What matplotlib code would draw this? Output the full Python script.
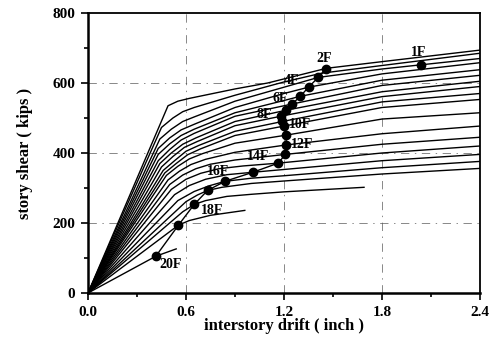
import matplotlib
matplotlib.use("Agg")
import matplotlib.pyplot as plt

# ---- data (drift in inch, story shear in kips), curves listed top to bottom ----
curve_drift = [
    [0, 0.49, 0.55, 0.62, 0.90, 1.10, 1.46, 1.80, 2.40],
    [0, 0.45, 0.52, 0.58, 0.65, 0.90, 1.20, 1.43, 1.80, 2.40],
    [0, 0.44, 0.51, 0.58, 0.65, 0.90, 1.20, 1.41, 1.80, 2.40],
    [0, 0.43, 0.50, 0.57, 0.65, 0.90, 1.20, 1.35, 1.80, 2.40],
    [0, 0.43, 0.50, 0.57, 0.65, 0.90, 1.20, 1.30, 1.80, 2.40],
    [0, 0.43, 0.50, 0.57, 0.65, 0.90, 1.25, 1.80, 2.40],
    [0, 0.44, 0.51, 0.58, 0.66, 0.90, 1.21, 1.80, 2.40],
    [0, 0.45, 0.52, 0.59, 0.67, 0.90, 1.18, 1.80, 2.40],
    [0, 0.46, 0.53, 0.60, 0.68, 0.90, 1.19, 1.80, 2.40],
    [0, 0.47, 0.54, 0.61, 0.69, 0.90, 1.20, 1.80, 2.40],
    [0, 0.48, 0.55, 0.62, 0.70, 0.90, 1.213, 1.80, 2.40],
    [0, 0.49, 0.56, 0.63, 0.72, 0.90, 1.213, 1.80, 2.40],
    [0, 0.50, 0.58, 0.66, 0.75, 0.90, 1.209, 1.80, 2.40],
    [0, 0.51, 0.60, 0.69, 0.80, 0.95, 1.164, 1.80, 2.40],
    [0, 0.53, 0.62, 0.72, 0.85, 1.01, 1.80, 2.40],
    [0, 0.55, 0.65, 0.74, 0.838, 1.00, 1.20, 1.80, 2.40],
    [0, 0.60, 0.67, 0.732, 0.82, 1.00, 1.20, 1.80, 2.40],
    [0, 0.58, 0.65, 0.72, 0.85, 1.00, 1.20, 1.69],
    [0, 0.554, 0.62, 0.75, 0.96],
    [0, 0.415, 0.54],
]
curve_shear = [
    [0, 535, 548, 556, 583, 600, 642, 661, 694],
    [0, 473, 500, 518, 530, 565, 603, 628, 650, 685],
    [0, 440, 468, 490, 503, 548, 588, 616, 640, 670],
    [0, 413, 443, 466, 482, 530, 570, 588, 626, 658],
    [0, 396, 426, 450, 468, 515, 550, 562, 608, 638],
    [0, 378, 410, 437, 456, 505, 540, 593, 622],
    [0, 370, 400, 425, 443, 490, 522, 575, 605],
    [0, 360, 390, 416, 433, 478, 505, 561, 590],
    [0, 350, 378, 405, 422, 462, 490, 546, 570],
    [0, 343, 370, 395, 412, 450, 477, 530, 553],
    [0, 336, 362, 383, 398, 428, 451, 497, 515],
    [0, 323, 348, 367, 382, 402, 423, 455, 477],
    [0, 310, 337, 355, 368, 380, 396, 425, 445],
    [0, 296, 325, 342, 355, 363, 371, 400, 420],
    [0, 281, 307, 325, 338, 345, 378, 396],
    [0, 264, 290, 306, 319, 328, 335, 358, 376],
    [0, 261, 280, 293, 302, 313, 320, 340, 356],
    [0, 232, 253, 264, 276, 282, 289, 302],
    [0, 194, 207, 222, 236],
    [0, 105, 126],
]

floor_drift = [0.415, 0.554, 0.65, 0.732, 0.838, 1.01, 1.164, 1.209, 1.213,
               1.213, 1.20, 1.19, 1.18, 1.21, 1.25, 1.30, 1.35, 1.41, 1.457]
floor_shear = [105, 194, 253, 293, 319, 345, 371, 396, 423,
               451, 477, 490, 505, 522, 540, 562, 588, 616, 640]
first_floor_drift = [2.04]
first_floor_shear = [651]

label_text = ["20F", "18F", "16F", "14F", "12F", "10F", "8F", "6F", "4F", "2F", "1F"]
label_x = [0.44, 0.69, 0.73, 0.975, 1.24, 1.23, 1.03, 1.13, 1.20, 1.40, 1.98]
label_y = [80, 235, 347, 389, 423, 480, 509, 557, 608, 671, 686]

x_ticks = [0.0, 0.6, 1.2, 1.8, 2.4]
x_tick_labels = ["0.0", "0.6", "1.2", "1.8", "2.4"]
y_ticks = [0, 200, 400, 600, 800]
y_tick_labels = ["0", "200", "400", "600", "800"]

# ---- figure ----
plt.rcParams['font.family'] = ['Liberation Serif', 'DejaVu Serif']
plt.rcParams['font.weight'] = 'bold'

fig = plt.figure(figsize=(4.96, 3.45), dpi=100)
ax = fig.add_axes([88/496, 52/345, 392/496, 280/345])

for xs, ys in zip(curve_drift, curve_shear):
    ax.plot(xs, ys, color='black', lw=1.0, solid_joinstyle='round', zorder=2)

ax.plot(floor_drift, floor_shear, color='black', lw=1.0, marker='o',
        markersize=6, zorder=3)
ax.plot(first_floor_drift, first_floor_shear, color='black', lw=0, marker='o',
        markersize=6, zorder=3)

for t, x, y in zip(label_text, label_x, label_y):
    ax.text(x, y, t, fontsize=10, fontweight='bold', ha='left', va='center',
            color='black', zorder=4)

# grid
for gx in [0.6, 1.2, 1.8]:
    ax.axvline(gx, color='0.35', lw=0.5, ls=(0, (12, 8, 2, 8)), zorder=1)
for gy in [200, 400, 600]:
    ax.axhline(gy, color='0.35', lw=0.5, ls=(0, (12, 8, 2, 8)), zorder=1)

ax.set_xlim(0, 2.4)
ax.set_ylim(0, 800)
ax.set_xticks(x_ticks)
ax.set_xticklabels(x_tick_labels)
ax.set_yticks(y_ticks)
ax.set_yticklabels(y_tick_labels)
ax.set_xticks([0.3, 0.9, 1.5, 2.1], minor=True)
ax.set_yticks([100, 300, 500, 700], minor=True)
ax.tick_params(which='major', direction='out', length=5, width=1.2,
               labelsize=11, pad=4)
ax.tick_params(which='minor', direction='out', length=3, width=1.2)
for lab in ax.get_xticklabels() + ax.get_yticklabels():
    lab.set_fontweight('bold')

for side in ['left', 'bottom']:
    ax.spines[side].set_linewidth(1.8)
for side in ['right', 'top']:
    ax.spines[side].set_linewidth(1.3)

ax.set_xlabel("interstory drift ( inch )", fontsize=12, fontweight='bold', labelpad=0)
ax.set_ylabel("story shear ( kips )", fontsize=12, fontweight='bold', labelpad=14)

fig.savefig("out.png", dpi=100)
